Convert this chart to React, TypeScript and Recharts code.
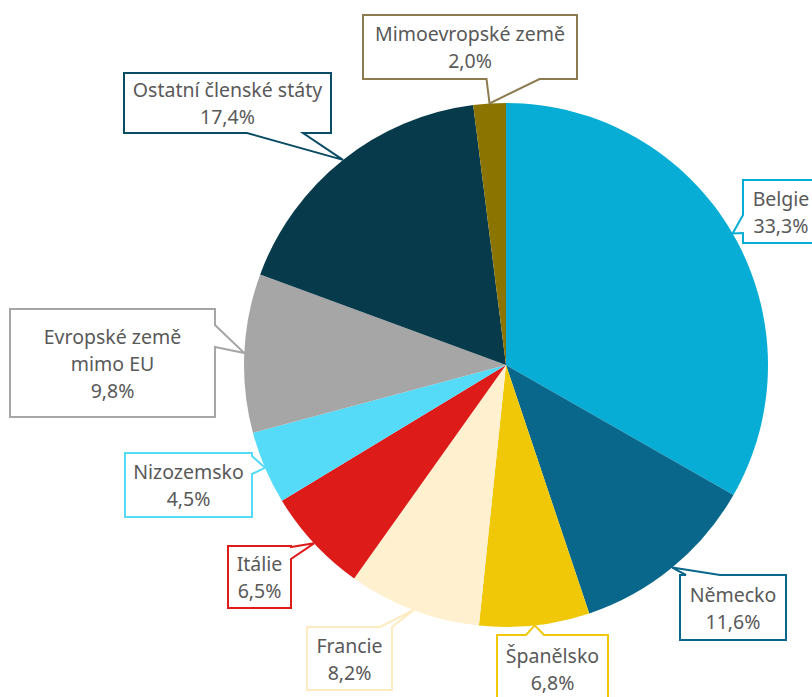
import { PieChart, Pie, Cell } from "recharts";

const CATEGORIES = [
  "Belgie",
  "Německo",
  "Španělsko",
  "Francie",
  "Itálie",
  "Nizozemsko",
  "Evropské země\nmimo EU",
  "Ostatní členské státy",
  "Mimoevropské země",
];
const SHARES = [33.3, 11.6, 6.8, 8.2, 6.5, 4.5, 9.8, 17.4, 2.0];

const COLORS = [
  "#07ADD5",
  "#08678A",
  "#F0C808",
  "#FFF1D0",
  "#DD1C1A",
  "#55DBF8",
  "#A6A6A6",
  "#073B4C",
  "#8B7500",
];
const BORDERS = [
  "#07ADD5",
  "#08678A",
  "#F0C808",
  "#FFEBC0",
  "#DD1C1A",
  "#55DBF8",
  "#A6A6A6",
  "#0A4C63",
  "#8C7B4E",
];

const CX = 506;
const CY = 365;
const R = 262;

// callout boxes, relative to the pie centre: box x/y/w/h, side of wedge, wedge base centre and width
type Side = "top" | "right" | "bottom" | "left";
const BOXES: { x: number; y: number; w: number; h: number; side: Side; base: number; bw: number }[] = [
  { x: 237, y: -185, w: 76, h: 63, side: "left", base: -141, bw: 18 },
  { x: 174, y: 210, w: 106, h: 65, side: "top", base: 197, bw: 34 },
  { x: -9, y: 270, w: 111, h: 68, side: "top", base: 29, bw: 18 },
  { x: -199, y: 262, w: 85, h: 63, side: "top", base: -120, bw: 12 },
  { x: -278, y: 181, w: 63, h: 62, side: "right", base: 188, bw: 12 },
  { x: -381, y: 88, w: 127, h: 64, side: "right", base: 100, bw: 18 },
  { x: -496, y: -56, w: 205, h: 108, side: "right", base: -29, bw: 22 },
  { x: -382, y: -292, w: 207, h: 60, side: "bottom", base: -231, bw: 56 },
  { x: -143, y: -350, w: 214, h: 64, side: "bottom", base: 7, bw: 53 },
];

const data = CATEGORIES.map((name, i) => ({ name, value: SHARES[i] }));

function calloutPath(x: number, y: number, w: number, h: number, side: Side, base: number, half: number, tx: number, ty: number) {
  const r = x + w;
  const b = y + h;
  let d = `M${x},${y}`;
  if (side === "top") d += ` L${base - half},${y} L${tx},${ty} L${base + half},${y}`;
  d += ` L${r},${y}`;
  if (side === "right") d += ` L${r},${base - half} L${tx},${ty} L${r},${base + half}`;
  d += ` L${r},${b}`;
  if (side === "bottom") d += ` L${base + half},${b} L${tx},${ty} L${base - half},${b}`;
  d += ` L${x},${b}`;
  if (side === "left") d += ` L${x},${base + half} L${tx},${ty} L${x},${base - half}`;
  return d + " Z";
}

const RADIAN = Math.PI / 180;

// eslint-disable-next-line @typescript-eslint/no-explicit-any
const renderCallout = (props: any) => {
  const { cx, cy, midAngle, outerRadius, index } = props;
  const box = BOXES[index];
  const tx = cx + outerRadius * Math.cos(-midAngle * RADIAN);
  const ty = cy + outerRadius * Math.sin(-midAngle * RADIAN);
  const x = cx + box.x;
  const y = cy + box.y;
  const base = box.side === "top" || box.side === "bottom" ? cx + box.base : cy + box.base;
  const lines = [...CATEGORIES[index].split("\n"), `${SHARES[index].toFixed(1).replace(".", ",")}%`];
  const lh = 27;
  const startY = y + box.h / 2 - ((lines.length - 1) * lh) / 2;
  return (
    <g key={`callout-${index}`}>
      <path
        d={calloutPath(x, y, box.w, box.h, box.side, base, box.bw / 2, tx, ty)}
        fill="#ffffff"
        stroke={BORDERS[index]}
        strokeWidth={2}
      />
      {lines.map((t, i) => (
        <text
          key={i}
          x={x + box.w / 2}
          y={startY + i * lh}
          textAnchor="middle"
          dominantBaseline="central"
          fontSize={19.5}
          fill="#595959"
          style={{ fontFamily: "'Noto Sans', sans-serif" }}
        >
          {t}
        </text>
      ))}
    </g>
  );
};

export default function App() {
  return (
    <div style={{ position: "absolute", left: 0, top: 0, width: 812, height: 697, background: "#fff" }}>
      <PieChart width={812} height={697} margin={{ top: 0, right: 0, bottom: 0, left: 0 }}>
        <Pie
          data={data}
          dataKey="value"
          nameKey="name"
          cx={CX}
          cy={CY}
          outerRadius={R}
          startAngle={90}
          endAngle={-270}
          stroke="none"
          label={renderCallout}
          labelLine={false}
          isAnimationActive={false}
        >
          {data.map((_, i) => (
            <Cell key={i} fill={COLORS[i]} />
          ))}
        </Pie>
      </PieChart>
    </div>
  );
}
